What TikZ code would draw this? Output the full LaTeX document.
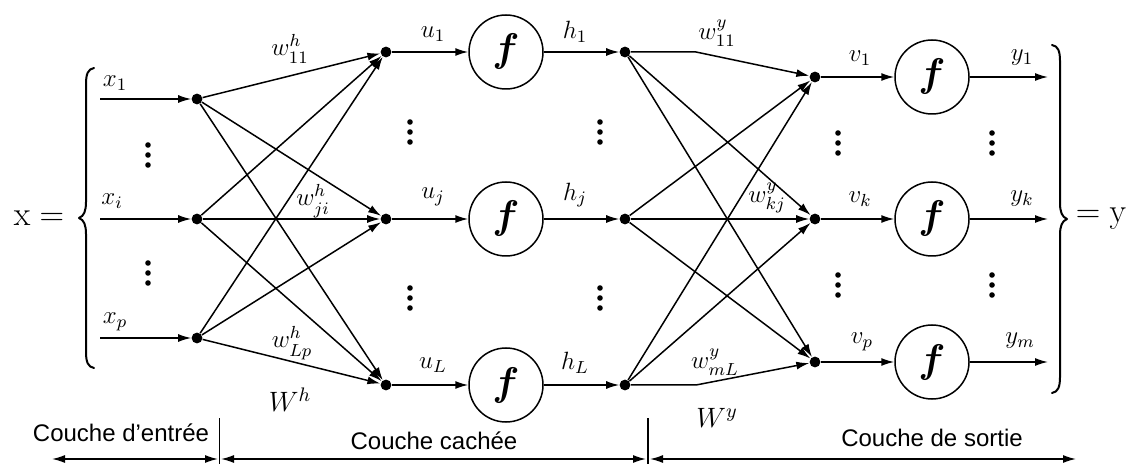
\RequirePackage{fix-cm}
\documentclass[tikz,border=0pt]{standalone}
\usepackage{amsmath,bm}
\usepackage{fontspec}
\setsansfont{Liberation Sans}
\usetikzlibrary{arrows.meta}
\newcommand\mythreedots[1]{\foreach \k in {-10,0,10}{\fill (#1) ++(0,\k) circle[radius=1.4pt];}}
\newcommand\lowsub[1]{\raisebox{-1.2pt}{$\scriptstyle #1$}}
\begin{document}
\begin{tikzpicture}[x=0.5pt,y=-0.5pt,
 jdot/.style={circle,fill=black,inner sep=0pt,minimum size=5.4pt},
 neuron/.style={circle,draw=black,line width=0.75pt,inner sep=0pt,minimum size=37pt,font=\fontsize{20}{24}\selectfont},
 arr/.style={line width=0.75pt,-{Latex[length=6.5pt,width=4pt]}},
 barr/.style={line width=0.75pt,{Latex[length=6.5pt,width=4pt]}-{Latex[length=6.5pt,width=4pt]}},
 lab/.style={inner sep=0pt,font=\fontsize{12.5}{15}\selectfont},
 big/.style={inner sep=0pt,font=\fontsize{17}{20}\selectfont},
 layer/.style={inner sep=0pt,font=\sffamily\fontsize{12}{14}\selectfont},
 bracestyle/.style={line width=1pt,line cap=round,line join=round},
 sep/.style={line width=0.75pt}]
\useasboundingbox (0,0) rectangle (1129,464);

% braces and x, y
\node[big] (xeq) at (39,218) {$\mathrm{x} =$};
\draw[bracestyle] (94,68) .. controls (88,69) and (86,74) .. (86,84) -- (86,202)
  .. controls (86,211) and (84,216) .. (79,218)
  .. controls (84,220) and (86,225) .. (86,234) -- (86,352)
  .. controls (86,362) and (88,367) .. (94,368);
\draw[bracestyle] (1052,45) .. controls (1058,46) and (1060,51) .. (1060,61) -- (1060,203)
  .. controls (1060,212) and (1062,217) .. (1067,219)
  .. controls (1062,221) and (1060,226) .. (1060,235) -- (1060,377)
  .. controls (1060,387) and (1058,392) .. (1052,393);
\node[big] (yeq) at (1101,219) {$= \mathrm{y}$};

% input starts
\coordinate (s1) at (100,99);
\coordinate (s2) at (100,219);
\coordinate (s3) at (100,338);
% input dots
\node[jdot] (i1) at (197,99) {};
\node[jdot] (i2) at (197,219) {};
\node[jdot] (i3) at (197,338) {};
% hidden dots
\node[jdot] (a1) at (386,52) {};
\node[jdot] (a2) at (386,219) {};
\node[jdot] (a3) at (386,385) {};
% hidden neurons
\node[neuron] (f1) at (506,52) {$\bm{f}$};
\node[neuron] (f2) at (506,219) {$\bm{f}$};
\node[neuron] (f3) at (506,385) {$\bm{f}$};
% hidden outputs
\node[jdot] (h1) at (625,52) {};
\node[jdot] (h2) at (625,219) {};
\node[jdot] (h3) at (625,385) {};
% kinks
\coordinate (k1) at (696,52);
\coordinate (k3) at (696,385);
% output dots
\node[jdot] (o1) at (815,77) {};
\node[jdot] (o2) at (815,219) {};
\node[jdot] (o3) at (815,362) {};
% output neurons
\node[neuron] (g1) at (932,77) {$\bm{f}$};
\node[neuron] (g2) at (932,219) {$\bm{f}$};
\node[neuron] (g3) at (932,362) {$\bm{f}$};
\coordinate (e1) at (1048,77);
\coordinate (e2) at (1048,219);
\coordinate (e3) at (1048,362);

% connectors
\foreach \n in {1,2,3}{
  \draw[arr] (s\n) -- (i\n);
  \draw[arr] (a\n) -- (f\n);
  \draw[arr] (f\n) -- (h\n);
  \draw[arr] (o\n) -- (g\n);
  \draw[arr] (g\n) -- (e\n);
}
\foreach \p in {1,2,3}{
  \foreach \q in {1,2,3}{
    \draw[arr] (i\p) -- (a\q);
  }
}
\draw[arr] (h1) -- (k1) -- (o1);
\draw[arr] (h1) -- (o2);
\draw[arr] (h1) -- (o3);
\draw[arr] (h2) -- (o1);
\draw[arr] (h2) -- (o2);
\draw[arr] (h2) -- (o3);
\draw[arr] (h3) -- (o1);
\draw[arr] (h3) -- (o2);
\draw[arr] (h3) -- (k3) -- (o3);

% vertical dots
\coordinate (v1) at (148,155);
\coordinate (v2) at (148,273);
\coordinate (v3) at (410,132);
\coordinate (v4) at (410,298);
\coordinate (v5) at (600,132);
\coordinate (v6) at (600,298);
\coordinate (v7) at (838,143);
\coordinate (v8) at (838,285);
\coordinate (v9) at (992,143);
\coordinate (v10) at (992,285);
\foreach \n in {1,...,10}{\mythreedots{v\n}}

% labels
\node[lab] (lx1) at (115,83) {$x_1$};
\node[lab] (lxi) at (112,201) {$x_i$};
\node[lab] (lxp) at (115,322) {$x_p$};
\node[lab] (lw11h) at (290,49) {$w^h_{\lowsub{11}}$};
\node[lab] (lwjih) at (313,201) {$w^h_{\lowsub{ji}}$};
\node[lab] (lwLph) at (292,343) {$w^h_{\lowsub{Lp}}$};
\node[lab,font=\fontsize{14}{17}\selectfont] (lWh) at (290,400) {$W^h$};
\node[lab] (lu1) at (433,34) {$u_1$};
\node[lab] (luj) at (433,197) {$u_j$};
\node[lab] (luL) at (433,365) {$u_L$};
\node[lab] (lh1) at (575,32) {$h_1$};
\node[lab] (lhj) at (575,195) {$h_j$};
\node[lab] (lhL) at (575,363) {$h_L$};
\node[lab] (lw11y) at (717,33) {$w^y_{11}$};
\node[lab] (lwkjy) at (767,198) {$w^y_{kj}$};
\node[lab] (lwmLy) at (715,362) {$w^y_{mL}$};
\node[lab,font=\fontsize{14}{17}\selectfont] (lWy) at (717,418) {$W^y$};
\node[lab] (lv1) at (860,58) {$v_1$};
\node[lab] (lvk) at (860,199) {$v_k$};
\node[lab] (lvp) at (862,342) {$v_p$};
\node[lab] (ly1) at (1022,58) {$y_1$};
\node[lab] (lyk) at (1022,199) {$y_k$};
\node[lab] (lym) at (1020,341) {$y_m$};

% bottom layer bar
\coordinate (b0) at (52,459);
\coordinate (b1) at (218,459);
\coordinate (b2) at (221,459);
\coordinate (b3) at (646,459);
\coordinate (b4) at (650,459);
\coordinate (b5) at (1076,459);
\coordinate (t1) at (219.5,418);
\coordinate (u1) at (219.5,464);
\coordinate (t2) at (648,418);
\coordinate (u2) at (648,464);
\draw[sep] (t1) -- (u1);
\draw[sep] (t2) -- (u2);
\draw[barr] (b0) -- (b1);
\draw[barr] (b2) -- (b3);
\draw[barr] (b4) -- (b5);
\node[layer] (L1) at (121,433) {Couche d'entrée};
\node[layer] (L2) at (434,441) {Couche cachée};
\node[layer] (L3) at (932,438) {Couche de sortie};
\end{tikzpicture}
\end{document}
